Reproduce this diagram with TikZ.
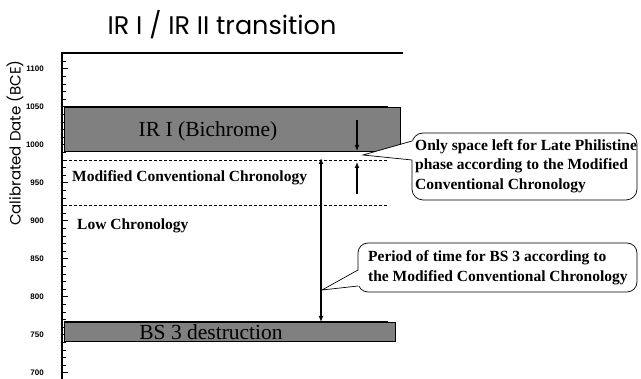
\documentclass[tikz,border=0pt]{standalone}
\usepackage{fontspec}
\setmainfont{Liberation Serif}
\setsansfont{Liberation Sans}
\newfontfamily\titlefont{Poppins}
\usetikzlibrary{arrows.meta}
\tikzset{> = {Latex[length=6pt,width=5pt]}}

\begin{document}
\begin{tikzpicture}[x=1pt,y=-1pt,inner sep=0,
	phase/.style={fill=black!50,draw=black,line width=.7pt},
	era/.style={dash pattern=on 3pt off 2pt,line width=.9pt},
	note/.style={draw=black,line width=.7pt,fill=white},
	lbl/.style={anchor=west,font=\bfseries\fontsize{15.5}{19.5}\selectfont},
	ticklbl/.style={anchor=east,font=\sffamily\bfseries\fontsize{8}{9}\selectfont}]
	\useasboundingbox (0,0) rectangle (641,379);
	\node (T) at (222,25){\titlefont\fontsize{25.5}{30}\selectfont IR I / IR II transition};
	\node[rotate=90] (Y) at (15,143){\titlefont\fontsize{15}{17}\selectfont Calibrated Date (BCE)};
	%axis, one tick every 10 years, 0.76 px per year
	\draw[line width=1.2pt] (62,379)--(62,53)--(403,53);
	\foreach \i in {-1,...,40}{
		\pgfmathsetmacro{\ty}{69+7.6*\i}
		\pgfmathtruncatemacro{\yr}{1100-10*\i}
		\ifnum\numexpr\i-5*(\i/5)\relax=0
			\draw[line width=1pt] (62,\ty)--(68,\ty);
			\node[ticklbl] at (44,\ty){\yr};
		\else
			\draw[line width=.8pt] (62,\ty)--(65.5,\ty);
		\fi
	}
	%phases
	\draw[phase] (64,107) rectangle (400,151);
	\draw[line width=1.5pt] (64,107)--(388,107);
	\node (IR) at (208,131){\fontsize{21.5}{24}\selectfont IR I (Bichrome)};
	\draw[phase] (64,322) rectangle (395,341);
	\draw[line width=1.5pt] (64,322)--(388,322);
	\node[anchor=base] (BS) at (211,340){\fontsize{21.5}{24}\selectfont BS 3 destruction};
	%chronologies
	\draw[era] (64,160)--(388,160);
	\draw[era] (64,205)--(388,205);
	\node[lbl] (MCC) at (72,178){Modified Conventional Chronology};
	\node[lbl] (LC) at (77,226){Low Chronology};
	%arrows
	\coordinate (A1) at (321,158);
	\coordinate (A2) at (321,322);
	\coordinate (D1) at (357,120);
	\coordinate (D2) at (357,151);
	\coordinate (U1) at (357,194);
	\coordinate (U2) at (357,162);
	\draw[<->,line width=1.5pt] (A1)--(A2);
	\draw[->,line width=1.5pt] (D1)--(D2);
	\draw[->,line width=1.5pt] (U1)--(U2);
	%callouts: rounded box, then the pointer laid over its edge
	\coordinate (P1) at (363,155);
	\coordinate (P2) at (322,290);
	\draw[note,rounded corners=11pt] (412,133) rectangle (637,200);
	\fill[white] (413.5,160)--(P1)--(413.5,141)--cycle;
	\draw[line width=.7pt] (412,160)--(P1)--(412,141);
	\node[lbl,align=left] (N1) at (415,166){Only space left for Late Philistine\\phase according to the Modified\\Conventional Chronology};
	\draw[note,rounded corners=10pt] (358,243) rectangle (637,292);
	\fill[white] (359.5,286)--(P2)--(359.5,270)--cycle;
	\draw[line width=.7pt] (358,286)--(P2)--(358,270);
	\node[lbl,align=left] (N2) at (368,268){Period of time for BS 3 according to\\the Modified Conventional Chronology};
\end{tikzpicture}
\end{document}
